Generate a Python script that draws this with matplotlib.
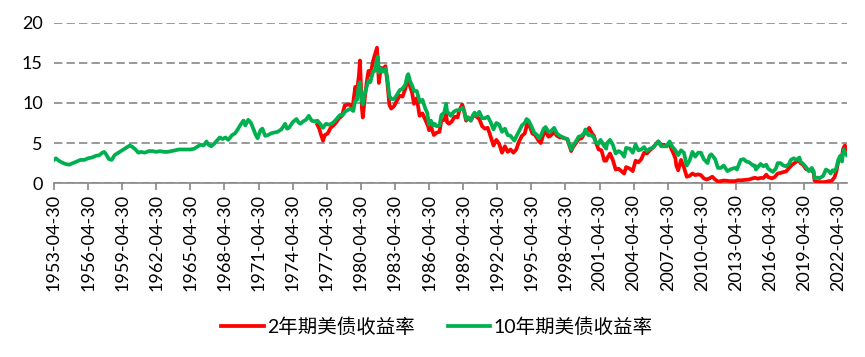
import matplotlib
matplotlib.use('Agg')
import matplotlib.pyplot as plt
import pandas as pd

# 10-year treasury yield (month, %)
months_10y = [
    "1953-04", "1953-06", "1953-09", "1953-12", "1954-04", "1954-08", "1954-12", "1955-04", "1955-08", "1955-12",
    "1956-04", "1956-08", "1956-12", "1957-04", "1957-07", "1957-09", "1957-11", "1958-02", "1958-05", "1958-08",
    "1958-12", "1959-04", "1959-08", "1959-12", "1960-03", "1960-06", "1960-09", "1960-12", "1961-04", "1961-08",
    "1961-12", "1962-04", "1962-08", "1962-12", "1963-04", "1963-08", "1963-12", "1964-04", "1964-08", "1964-12",
    "1965-04", "1965-08", "1965-12", "1966-03", "1966-06", "1966-09", "1966-11", "1967-02", "1967-05", "1967-08",
    "1967-11", "1968-02", "1968-05", "1968-08", "1968-12", "1969-03", "1969-06", "1969-09", "1969-12", "1970-02",
    "1970-05", "1970-08", "1970-11", "1971-01", "1971-03", "1971-06", "1971-08", "1971-11", "1972-02", "1972-05",
    "1972-08", "1972-12", "1973-04", "1973-08", "1973-10", "1973-12", "1974-04", "1974-08", "1974-10", "1974-12",
    "1975-03", "1975-06", "1975-09", "1975-12", "1976-03", "1976-06", "1976-09", "1976-12", "1977-03", "1977-06",
    "1977-09", "1977-12", "1978-03", "1978-06", "1978-09", "1978-11", "1979-02", "1979-05", "1979-08", "1979-10",
    "1979-12", "1980-02", "1980-03", "1980-05", "1980-06", "1980-08", "1980-10", "1980-12", "1981-02", "1981-05",
    "1981-07", "1981-09", "1981-10", "1981-11", "1982-01", "1982-03", "1982-06", "1982-08", "1982-10", "1982-12",
    "1983-03", "1983-06", "1983-09", "1983-12", "1984-03", "1984-05", "1984-06", "1984-08", "1984-10", "1984-12",
    "1985-03", "1985-06", "1985-09", "1985-12", "1986-02", "1986-04", "1986-06", "1986-08", "1986-10", "1986-12",
    "1987-03", "1987-05", "1987-08", "1987-10", "1987-11", "1988-01", "1988-03", "1988-06", "1988-09", "1988-12",
    "1989-03", "1989-05", "1989-07", "1989-09", "1989-12", "1990-02", "1990-04", "1990-06", "1990-09", "1990-12",
    "1991-03", "1991-06", "1991-09", "1991-12", "1992-03", "1992-06", "1992-09", "1992-12", "1993-03", "1993-06",
    "1993-10", "1993-12", "1994-03", "1994-06", "1994-09", "1994-11", "1995-01", "1995-04", "1995-07", "1995-10",
    "1995-12", "1996-02", "1996-05", "1996-07", "1996-10", "1996-12", "1997-04", "1997-07", "1997-10", "1997-12",
    "1998-03", "1998-06", "1998-10", "1998-12", "1999-03", "1999-06", "1999-09", "1999-12", "2000-01", "2000-04",
    "2000-07", "2000-10", "2000-12", "2001-03", "2001-05", "2001-09", "2001-11", "2001-12", "2002-03", "2002-06",
    "2002-09", "2002-12", "2003-03", "2003-06", "2003-08", "2003-12", "2004-03", "2004-06", "2004-09", "2004-12",
    "2005-03", "2005-06", "2005-09", "2005-12", "2006-03", "2006-06", "2006-09", "2006-12", "2007-03", "2007-06",
    "2007-09", "2007-12", "2008-03", "2008-06", "2008-09", "2008-12", "2009-03", "2009-06", "2009-09", "2009-12",
    "2010-03", "2010-06", "2010-10", "2010-12", "2011-02", "2011-06", "2011-09", "2011-12", "2012-03", "2012-07",
    "2012-10", "2012-12", "2013-03", "2013-05", "2013-09", "2013-12", "2014-03", "2014-06", "2014-10", "2014-12",
    "2015-01", "2015-06", "2015-09", "2015-12", "2016-02", "2016-07", "2016-10", "2016-12", "2017-03", "2017-06",
    "2017-09", "2017-12", "2018-02", "2018-05", "2018-08", "2018-11", "2018-12", "2019-03", "2019-06", "2019-09",
    "2019-12", "2020-02", "2020-03", "2020-06", "2020-08", "2020-12", "2021-03", "2021-06", "2021-08", "2021-10",
    "2021-12", "2022-02", "2022-04", "2022-06", "2022-08", "2022-09", "2022-10", "2022-11", "2022-12", "2023-01",
]
yield_10y = [
    2.9, 3.1, 2.8, 2.6, 2.4, 2.3, 2.5, 2.7, 2.9, 2.9,
    3.1, 3.2, 3.4, 3.5, 3.8, 3.9, 3.6, 3.0, 2.9, 3.5,
    3.8, 4.1, 4.4, 4.7, 4.5, 4.2, 3.8, 3.9, 3.8, 4.0,
    4.0, 3.9, 4.0, 3.9, 3.9, 4.0, 4.1, 4.2, 4.2, 4.2,
    4.2, 4.3, 4.6, 4.8, 4.7, 5.2, 4.8, 4.6, 4.9, 5.3,
    5.7, 5.5, 5.7, 5.4, 6.0, 6.2, 6.7, 7.3, 7.8, 7.2,
    7.9, 7.5, 6.6, 6.0, 5.6, 6.6, 6.8, 5.9, 6.0, 6.2,
    6.3, 6.4, 6.7, 7.4, 6.8, 6.9, 7.6, 8.0, 7.6, 7.4,
    7.7, 7.9, 8.4, 7.8, 7.7, 7.8, 7.4, 6.9, 7.4, 7.3,
    7.4, 7.7, 8.1, 8.5, 8.5, 8.9, 9.1, 9.3, 9.0, 10.3,
    10.4, 12.4, 12.6, 10.2, 9.8, 11.1, 12.0, 12.8, 12.6, 14.0,
    14.0, 15.5, 15.8, 13.8, 14.3, 13.9, 14.3, 13.0, 10.9, 10.5,
    10.5, 11.0, 11.6, 11.8, 12.3, 13.4, 13.6, 12.7, 12.2, 11.5,
    11.5, 10.2, 10.4, 9.3, 8.8, 7.3, 7.8, 7.2, 7.4, 7.1,
    7.2, 8.5, 8.8, 9.9, 8.9, 8.7, 8.4, 8.9, 9.1, 9.1,
    9.4, 9.0, 8.0, 8.2, 7.8, 8.4, 8.8, 8.4, 8.9, 8.1,
    8.1, 8.3, 7.6, 6.7, 7.5, 7.3, 6.4, 6.8, 6.0, 5.9,
    5.3, 5.8, 6.5, 7.2, 7.5, 8.0, 7.8, 7.1, 6.3, 6.0,
    5.6, 5.9, 6.8, 7.0, 6.4, 6.4, 6.9, 6.2, 5.9, 5.8,
    5.6, 5.5, 4.2, 4.7, 5.2, 5.8, 5.9, 6.3, 6.7, 6.0,
    6.0, 5.7, 5.1, 4.9, 5.4, 4.6, 4.3, 5.0, 5.4, 4.8,
    3.7, 4.0, 3.8, 3.3, 4.4, 4.3, 3.8, 4.8, 4.1, 4.2,
    4.5, 4.0, 4.3, 4.4, 4.8, 5.2, 4.6, 4.6, 4.6, 5.2,
    4.5, 4.1, 3.5, 4.1, 3.8, 2.2, 2.8, 3.9, 3.3, 3.8,
    3.8, 3.0, 2.5, 3.4, 3.6, 3.0, 1.9, 1.9, 2.2, 1.5,
    1.7, 1.8, 1.9, 1.7, 2.9, 3.0, 2.7, 2.6, 2.2, 2.2,
    1.7, 2.4, 2.1, 2.3, 1.8, 1.4, 1.8, 2.5, 2.5, 2.2,
    2.1, 2.4, 2.9, 3.1, 2.9, 3.2, 2.7, 2.4, 2.0, 1.5,
    1.9, 1.5, 0.6, 0.7, 0.6, 0.9, 1.7, 1.5, 1.2, 1.6,
    1.5, 1.9, 2.9, 3.4, 2.7, 3.8, 4.2, 3.7, 3.8, 3.5,
]

# 2-year treasury yield (month, %)
months_2y = [
    "1976-06", "1976-08", "1976-10", "1976-12", "1977-02", "1977-05", "1977-08", "1977-11", "1978-02", "1978-05",
    "1978-08", "1978-11", "1979-02", "1979-05", "1979-07", "1979-10", "1979-12", "1980-02", "1980-03", "1980-05",
    "1980-06", "1980-08", "1980-10", "1980-12", "1981-02", "1981-05", "1981-08", "1981-09", "1981-11", "1982-01",
    "1982-03", "1982-06", "1982-08", "1982-10", "1982-12", "1983-03", "1983-06", "1983-09", "1983-12", "1984-03",
    "1984-06", "1984-08", "1984-10", "1984-12", "1985-03", "1985-06", "1985-09", "1985-12", "1986-03", "1986-04",
    "1986-06", "1986-09", "1986-12", "1987-03", "1987-05", "1987-08", "1987-10", "1987-11", "1988-01", "1988-04",
    "1988-07", "1988-10", "1988-12", "1989-03", "1989-05", "1989-07", "1989-09", "1989-12", "1990-03", "1990-06",
    "1990-09", "1990-12", "1991-03", "1991-06", "1991-09", "1991-12", "1992-03", "1992-06", "1992-09", "1992-12",
    "1993-03", "1993-06", "1993-09", "1993-12", "1994-03", "1994-06", "1994-09", "1994-12", "1995-02", "1995-05",
    "1995-08", "1995-10", "1995-12", "1996-02", "1996-05", "1996-07", "1996-10", "1996-12", "1997-04", "1997-07",
    "1997-10", "1997-12", "1998-03", "1998-06", "1998-10", "1998-12", "1999-03", "1999-06", "1999-09", "1999-12",
    "2000-03", "2000-05", "2000-08", "2000-10", "2000-12", "2001-03", "2001-06", "2001-09", "2001-11", "2001-12",
    "2002-03", "2002-06", "2002-09", "2002-12", "2003-03", "2003-06", "2003-08", "2003-12", "2004-03", "2004-06",
    "2004-09", "2004-12", "2005-03", "2005-06", "2005-09", "2005-12", "2006-03", "2006-06", "2006-09", "2006-12",
    "2007-03", "2007-06", "2007-08", "2007-09", "2007-12", "2008-01", "2008-03", "2008-06", "2008-09", "2008-12",
    "2009-03", "2009-06", "2009-09", "2009-12", "2010-03", "2010-06", "2010-09", "2010-12", "2011-03", "2011-06",
    "2011-09", "2011-12", "2012-03", "2012-06", "2012-09", "2012-12", "2013-03", "2013-06", "2013-09", "2013-12",
    "2014-03", "2014-06", "2014-09", "2014-12", "2015-03", "2015-06", "2015-09", "2015-12", "2016-02", "2016-06",
    "2016-09", "2016-12", "2017-03", "2017-06", "2017-09", "2017-12", "2018-03", "2018-06", "2018-09", "2018-11",
    "2018-12", "2019-03", "2019-06", "2019-09", "2019-12", "2020-02", "2020-03", "2020-06", "2020-09", "2020-12",
    "2021-03", "2021-06", "2021-09", "2021-12", "2022-02", "2022-04", "2022-06", "2022-08", "2022-09", "2022-10",
    "2022-11", "2022-12", "2023-01",
]
yield_2y = [
    7.3, 6.8, 6.0, 5.3, 6.0, 6.2, 6.9, 7.2, 7.6, 8.1,
    8.4, 9.7, 9.8, 9.8, 9.2, 12.0, 11.6, 13.5, 15.3, 9.5,
    8.2, 10.5, 12.5, 14.0, 13.5, 15.3, 16.5, 16.9, 12.5, 14.4,
    14.2, 14.6, 12.5, 9.8, 9.3, 9.6, 10.3, 10.9, 10.8, 11.8,
    13.2, 12.0, 11.3, 9.9, 10.6, 8.4, 8.7, 7.9, 7.1, 6.6,
    7.1, 6.0, 6.3, 6.4, 7.8, 7.9, 8.6, 7.6, 7.4, 7.7,
    8.3, 8.2, 9.1, 9.8, 9.0, 7.8, 8.2, 7.8, 8.5, 8.3,
    8.0, 7.1, 6.8, 6.9, 5.8, 4.7, 5.4, 4.9, 3.8, 4.6,
    3.9, 4.2, 3.8, 4.2, 5.2, 5.9, 6.2, 7.6, 7.2, 6.2,
    6.0, 5.6, 5.2, 5.0, 6.2, 6.5, 5.8, 5.9, 6.4, 5.9,
    5.7, 5.7, 5.6, 5.5, 4.0, 4.5, 5.0, 5.5, 5.6, 6.2,
    6.6, 6.9, 6.2, 5.9, 5.1, 4.2, 4.1, 2.8, 2.8, 3.1,
    3.7, 2.9, 1.7, 1.8, 1.5, 1.2, 2.0, 1.8, 1.5, 2.8,
    2.6, 3.0, 3.8, 3.7, 4.1, 4.4, 4.8, 5.2, 4.7, 4.8,
    4.6, 5.0, 4.2, 4.0, 3.1, 2.2, 1.6, 2.9, 2.0, 0.8,
    0.9, 1.2, 1.0, 1.1, 1.0, 0.6, 0.45, 0.6, 0.8, 0.45,
    0.2, 0.25, 0.33, 0.3, 0.25, 0.25, 0.25, 0.36, 0.35, 0.38,
    0.42, 0.46, 0.58, 0.67, 0.56, 0.65, 0.64, 1.06, 0.75, 0.6,
    0.77, 1.2, 1.27, 1.38, 1.47, 1.89, 2.27, 2.52, 2.81, 2.95,
    2.5, 2.27, 1.75, 1.63, 1.58, 1.3, 0.3, 0.16, 0.13, 0.12,
    0.16, 0.25, 0.28, 0.73, 1.44, 2.7, 2.9, 3.45, 4.2, 4.5,
    4.7, 4.4, 4.2,
]

tick_years = list(range(1953, 2023, 3))

plt.rcParams['font.family'] = ['Lato', 'Noto Sans CJK SC', 'DejaVu Sans']

d10 = pd.to_datetime(months_10y) + pd.offsets.MonthEnd(0)
d2 = pd.to_datetime(months_2y) + pd.offsets.MonthEnd(0)

fig = plt.figure(figsize=(8.65, 3.57), dpi=100)
ax = fig.add_axes([0.0624, 0.487, 0.9166, 0.449])

ax.plot(d2, yield_2y, color='#FF0000', lw=2.7, label='2年期美债收益率', zorder=3)
ax.plot(d10, yield_10y, color='#00B050', lw=2.7, label='10年期美债收益率', zorder=4)

ax.set_ylim(0, 20)
ax.set_yticks([0, 5, 10, 15, 20])
ax.set_xlim(pd.Timestamp('1953-04-30'), d10[-1])
ticks = [pd.Timestamp(f'{y}-04-30') for y in tick_years]
ax.set_xticks(ticks)
ax.set_xticklabels([t.strftime('%Y-%m-%d') for t in ticks], rotation=90)

ax.grid(axis='y', color='#888888', lw=1.2, linestyle=(0, (5, 2.5)))
ax.set_axisbelow(True)
for s in ['left', 'right', 'top']:
    ax.spines[s].set_visible(False)
ax.spines['bottom'].set_color('#888888')
ax.spines['bottom'].set_linewidth(1.2)
ax.tick_params(axis='y', length=0, labelsize=13, pad=8)
ax.tick_params(axis='x', length=5, width=1.2, color='#888888', labelsize=13, pad=3)

ax.legend(loc='center', bbox_to_anchor=(0.505, 0.085), bbox_transform=fig.transFigure,
          ncol=2, frameon=False, fontsize=14, handlelength=2.2, handletextpad=0.15,
          columnspacing=1.7)

fig.savefig('out.png', dpi=100, facecolor='white')
